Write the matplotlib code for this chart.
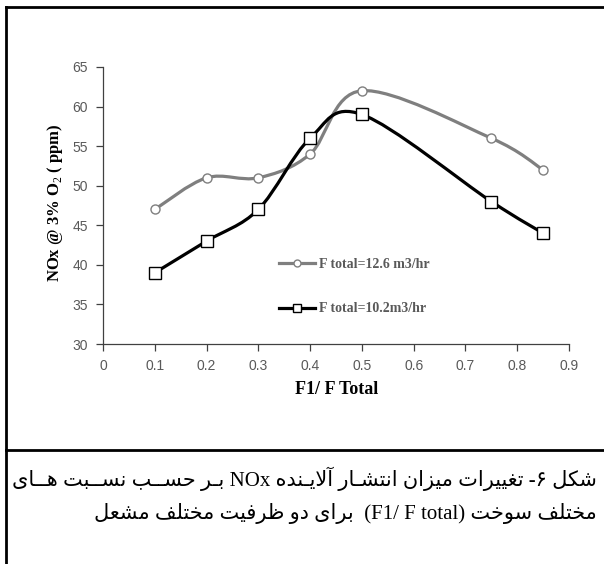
import numpy as np
import matplotlib
matplotlib.use("Agg")
import matplotlib.pyplot as plt
from matplotlib.path import Path
from matplotlib.patches import PathPatch
from matplotlib.lines import Line2D

# ---------------------------------------------------------------- DATA -----
ratio = [0.1, 0.2, 0.3, 0.4, 0.5, 0.75, 0.85]
nox_126 = [47, 51, 51, 54, 62, 56, 52]
nox_102 = [39, 43, 47, 56, 59, 48, 44]
series_labels = ["F total=12.6 m3/hr", "F total=10.2m3/hr"]
x_ticks = [0, 0.1, 0.2, 0.3, 0.4, 0.5, 0.6, 0.7, 0.8, 0.9]
y_ticks = [30, 35, 40, 45, 50, 55, 60, 65]

caption_1 = ["شکل", "۶-", "تغییرات", "میزان", "انتشـار", "آلایـنده", "NOx",
             "بـر", "حســب", "نســبت", "هــای"]
caption_2 = ["مختلف", "سوخت", "(F1/ F total)", "", "برای", "دو", "ظرفیت",
             "مختلف", "مشعل"]

# ------------------------------------------------------- arabic shaping -----
# (isolated, final, initial, medial); None => joins on the right only
FORMS = {
    "\u0627": ("\uFE8D", "\uFE8E", None, None),
    "\u0622": ("\uFE81", "\uFE82", None, None),
    "\u0628": ("\uFE8F", "\uFE90", "\uFE91", "\uFE92"),
    "\u062A": ("\uFE95", "\uFE96", "\uFE97", "\uFE98"),
    "\u062D": ("\uFEA1", "\uFEA2", "\uFEA3", "\uFEA4"),
    "\u062E": ("\uFEA5", "\uFEA6", "\uFEA7", "\uFEA8"),
    "\u062F": ("\uFEA9", "\uFEAA", None, None),
    "\u0631": ("\uFEAD", "\uFEAE", None, None),
    "\u0632": ("\uFEAF", "\uFEB0", None, None),
    "\u0633": ("\uFEB1", "\uFEB2", "\uFEB3", "\uFEB4"),
    "\u0634": ("\uFEB5", "\uFEB6", "\uFEB7", "\uFEB8"),
    "\u0638": ("\uFEC5", "\uFEC6", "\uFEC7", "\uFEC8"),
    "\u0639": ("\uFEC9", "\uFECA", "\uFECB", "\uFECC"),
    "\u063A": ("\uFECD", "\uFECE", "\uFECF", "\uFED0"),
    "\u0641": ("\uFED1", "\uFED2", "\uFED3", "\uFED4"),
    "\u0644": ("\uFEDD", "\uFEDE", "\uFEDF", "\uFEE0"),
    "\u0645": ("\uFEE1", "\uFEE2", "\uFEE3", "\uFEE4"),
    "\u0646": ("\uFEE5", "\uFEE6", "\uFEE7", "\uFEE8"),
    "\u0647": ("\uFEE9", "\uFEEA", "\uFEEB", "\uFEEC"),
    "\u0648": ("\uFEED", "\uFEEE", None, None),
    "\u06CC": ("\uFBFC", "\uFBFD", "\uFBFE", "\uFBFF"),
    "\u06A9": ("\uFB8E", "\uFB8F", "\uFB90", "\uFB91"),
    "\u0640": ("\u0640", "\u0640", "\u0640", "\u0640"),
}
LAM_ALEF = {"\u0627": ("\uFEFB", "\uFEFC"), "\u0622": ("\uFEF5", "\uFEF6")}


def shape_word(word):
    out, prev_joins, i = [], False, 0
    while i < len(word):
        c = word[i]
        nxt = word[i + 1] if i + 1 < len(word) else ""
        if c == "\u0644" and nxt in LAM_ALEF:
            out.append(LAM_ALEF[nxt][1 if prev_joins else 0])
            prev_joins, i = False, i + 2
            continue
        if c not in FORMS:
            out.append(c)
            prev_joins, i = False, i + 1
            continue
        iso, fin, ini, med = FORMS[c]
        link = ini is not None and nxt in FORMS
        if prev_joins and link:
            out.append(med)
        elif prev_joins:
            out.append(fin)
        elif link:
            out.append(ini)
        else:
            out.append(iso)
        prev_joins, i = link, i + 1
    return "".join(reversed(out))


def rtl_line(tokens):
    vis = [t if t.isascii() else shape_word(t) for t in tokens]
    return " ".join(reversed(vis))


def smooth_path(xs, ys):
    pts = np.column_stack([xs, ys]).astype(float)
    n = len(pts)
    verts, codes = [pts[0]], [Path.MOVETO]
    for i in range(n - 1):
        p0 = pts[i - 1] if i > 0 else pts[i]
        p1, p2 = pts[i], pts[i + 1]
        p3 = pts[i + 2] if i + 2 < n else pts[i + 1]
        verts += [p1 + (p2 - p0) / 6, p2 - (p3 - p1) / 6, p2]
        codes += [Path.CURVE4] * 3
    return Path(verts, codes)


# ---------------------------------------------------------------- FIGURE ---
W, H = 604, 564
fig = plt.figure(figsize=(W / 100, H / 100), dpi=100)
fx = lambda px: px / W
fy = lambda py: 1 - py / H

ax = fig.add_axes([fx(103), fy(344), fx(569) - fx(103), fy(67) - fy(344)])

GRAY = "#7f7f7f"
TXT = "#595959"
for ys, col, mk, ms, z in [(nox_126, GRAY, "o", 6.5, 2), (nox_102, "black", "s", 8, 3)]:
    ax.add_patch(PathPatch(smooth_path(ratio, ys), fill=False, edgecolor=col,
                           lw=2.3, zorder=z, capstyle="round"))
    ax.plot(ratio, ys, ls="none", marker=mk, ms=ms, mfc="white", mec=col,
            mew=1.0, zorder=z + 2)

ax.set_xlim(0, 0.9)
ax.set_ylim(30, 65)
ax.set_xticks(x_ticks)
ax.set_xticklabels([f"{v:g}" for v in x_ticks])
ax.set_yticks(y_ticks)
ax.tick_params(direction="out", length=5, width=0.9, color="#404040",
               labelsize=10, labelcolor=TXT, pad=6)
for lbl in ax.get_xticklabels() + ax.get_yticklabels():
    lbl.set_family("Liberation Sans")
ax.spines[["top", "right"]].set_visible(False)
for s in ("left", "bottom"):
    ax.spines[s].set_color("#404040")
    ax.spines[s].set_linewidth(0.9)

plt.rcParams["mathtext.fontset"] = "custom"
plt.rcParams["mathtext.rm"] = "Liberation Serif"
fig.text(fx(55), fy(203), r"NOx @ 3% O$_\mathrm{2}$ ( ppm)", rotation=90,
         ha="center", va="center", family="Liberation Serif",
         fontweight="bold", fontsize=12)
fig.text(fx(337), fy(390), "F1/ F Total", ha="center", va="center",
         family="Liberation Serif", fontweight="bold", fontsize=13)

handles = [Line2D([], [], color=GRAY, lw=2.3, marker="o", ms=5, mfc="white", mec=GRAY),
           Line2D([], [], color="black", lw=2.3, marker="s", ms=6, mfc="white", mec="black")]
ax.legend(handles, series_labels, loc="upper left",
          bbox_to_anchor=(fx(266), fy(245)), bbox_transform=fig.transFigure,
          frameon=False, handlelength=2.6, handletextpad=0.3, labelspacing=2.3,
          labelcolor=TXT, prop={"family": "Liberation Serif", "weight": "bold", "size": 10})

# frame and caption box
for xs, ys in [([6, 6], [7, H]), ([6, W], [7, 7]), ([6, W], [450, 450])]:
    fig.add_artist(Line2D([fx(v) for v in xs], [fy(v) for v in ys],
                          color="black", lw=2.0, transform=fig.transFigure))

cap_font = ["Liberation Serif", "DejaVu Sans"]
fig.text(fx(597), fy(479), rtl_line(caption_1), ha="right", va="center",
         family=cap_font, fontsize=15)
fig.text(fx(597), fy(513), rtl_line(caption_2), ha="right", va="center",
         family=cap_font, fontsize=15)

fig.savefig("out.png", dpi=100)
